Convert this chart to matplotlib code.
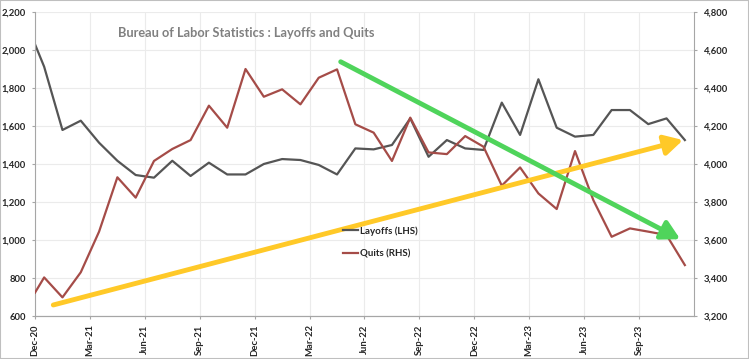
import matplotlib
matplotlib.use("Agg")
import matplotlib.pyplot as plt
import numpy as np
from matplotlib.patches import Rectangle
from matplotlib.ticker import FuncFormatter

plt.rcParams['font.family'] = ['Lato', 'DejaVu Sans']

# monthly values Dec-20 .. Nov-23 (thousands); both series also start with a point on the axis edge
layoffs_start = 2030
layoffs = [1912, 1579, 1628, 1512, 1417, 1342, 1328, 1417, 1337, 1407, 1345, 1345,
           1400, 1426, 1421, 1395, 1345, 1482, 1477, 1500, 1640, 1438, 1526, 1482,
           1474, 1723, 1553, 1846, 1591, 1544, 1553, 1684, 1684, 1610, 1640, 1526]
quits_start = 3323
quits = [3403, 3298, 3430, 3644, 3930, 3823, 4016, 4079, 4126, 4307, 4191, 4500,
         4354, 4393, 4314, 4454, 4498, 4209, 4165, 4016, 4244, 4061, 4052, 4147,
         4091, 3886, 3982, 3845, 3763, 4068, 3810, 3617, 3661, 3644, 3626, 3468]
tick_labels = ['Dec-20', 'Mar-21', 'Jun-21', 'Sep-21', 'Dec-21', 'Mar-22',
               'Jun-22', 'Sep-22', 'Dec-22', 'Mar-23', 'Jun-23', 'Sep-23']

# trend arrows drawn on the right-hand scale (x in months from Dec-20)
green_arrow = ((16.7, 4538), (35.25, 3604))
yellow_arrow = ((1.0, 3258), (35.4, 4126))

n = len(layoffs)
x = np.concatenate([[0], np.arange(n) + 0.5])
lay = [layoffs_start] + layoffs
qts = [quits_start] + quits

fig = plt.figure(figsize=(7.49, 3.59), dpi=100)
ax = fig.add_axes([35 / 749, 1 - 316 / 359, 659 / 749, 304 / 359])
ax2 = ax.twinx()

ax.plot(x, lay, color='#555555', lw=1.6, label='Layoffs (LHS)')
ax2.plot(x, qts, color='#A54C48', lw=1.6, label='Quits (RHS)')

ax.set_xlim(0, n)
ax.set_ylim(600, 2200)
ax2.set_ylim(3200, 4800)
ax.set_yticks(np.arange(600, 2201, 200))
ax2.set_yticks(np.arange(3200, 4801, 200))
fmt = FuncFormatter(lambda v, p: f'{int(v):,}')
ax.yaxis.set_major_formatter(fmt)
ax2.yaxis.set_major_formatter(fmt)
ax.set_xticks(np.arange(0, n, 3))
ax.set_xticklabels(tick_labels, rotation=90)

ax.grid(True, color='#EBEBEB', lw=0.8)
ax.set_axisbelow(True)
for a in (ax, ax2):
    a.spines['top'].set_visible(False)
    for s in ('left', 'right', 'bottom'):
        a.spines[s].set_color('#A6A6A6')
    a.tick_params(colors='#A6A6A6', length=2.5, width=0.8, labelsize=6.8)
ax2.spines['left'].set_visible(False)
ax.spines['right'].set_visible(False)
for lab in ax.get_xticklabels() + ax.get_yticklabels() + ax2.get_yticklabels():
    lab.set_color('#262626')
    lab.set_fontweight('bold')
ax.tick_params(axis='y', pad=4)
ax2.tick_params(axis='y', pad=4.5)
ax.tick_params(axis='x', pad=3.5)

for (p0, p1), col in ((yellow_arrow, '#FFC928'), (green_arrow, '#4FD45B')):
    ax2.annotate('', xy=p1, xytext=p0,
                 arrowprops=dict(arrowstyle='-|>,head_length=0.55,head_width=0.3',
                                 lw=3.5, color=col, shrinkA=0, shrinkB=0,
                                 mutation_scale=20))

fig.text(118 / 749, 1 - 33 / 359, 'Bureau of Labor Statistics : Layoffs and Quits',
         color='#808080', fontsize=9.2, fontweight='bold', va='center', ha='left')

h1, l1 = ax.get_legend_handles_labels()
h2, l2 = ax2.get_legend_handles_labels()
leg = fig.legend(h1 + h2, l1 + l2, loc='upper left', bbox_to_anchor=(343 / 749, 1 - 226 / 359),
                 bbox_transform=fig.transFigure, frameon=False, fontsize=7,
                 handlelength=1.5, handletextpad=0.3, labelspacing=1.45,
                 borderpad=0, borderaxespad=0)
for t in leg.get_texts():
    t.set_fontweight('bold')
    t.set_color('#262626')

fig.patches.append(Rectangle((0, 0), 1, 1, transform=fig.transFigure, fill=False,
                             edgecolor='#BFBFBF', lw=1.5))

fig.savefig('out.png', dpi=100)
